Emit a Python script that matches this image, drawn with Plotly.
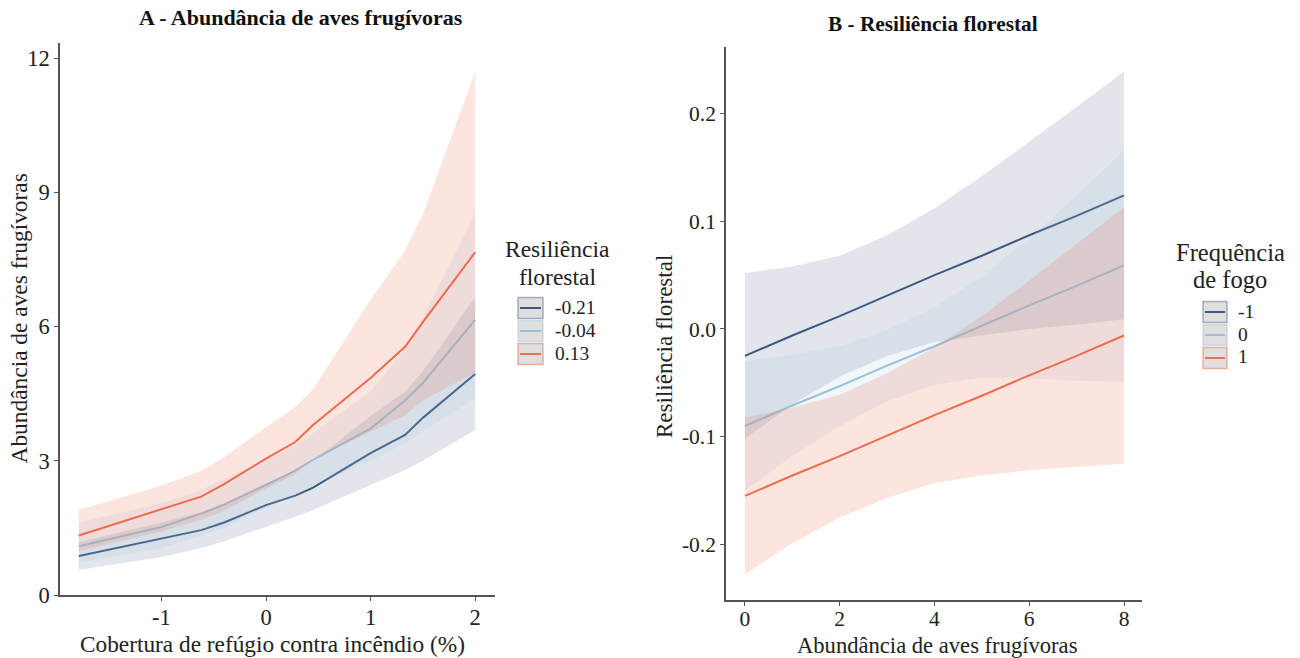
import plotly.graph_objects as go

# ---------- Panel A data ----------
xa = [-1.79, -1.0, -0.62, -0.4, 0.0, 0.28, 0.45, 1.0, 1.33, 1.5, 2.0]
a_groups = ["-0.21", "-0.04", "0.13"]
a_fit = {
    "-0.21": [0.87, 1.25, 1.45, 1.62, 2.01, 2.22, 2.40, 3.17, 3.58, 3.96, 4.94],
    "-0.04": [1.09, 1.52, 1.82, 2.02, 2.46, 2.78, 3.02, 3.72, 4.35, 4.74, 6.15],
    "0.13":  [1.33, 1.92, 2.20, 2.48, 3.05, 3.42, 3.80, 4.85, 5.55, 6.10, 7.66],
}
a_low = {
    "-0.21": [0.56, 0.85, 1.05, 1.20, 1.52, 1.75, 1.90, 2.46, 2.79, 3.00, 3.69],
    "-0.04": [0.72, 1.05, 1.32, 1.50, 1.95, 2.20, 2.45, 3.00, 3.40, 3.65, 4.40],
    "0.13":  [0.98, 1.42, 1.68, 1.88, 2.38, 2.70, 3.05, 3.65, 4.02, 4.35, 4.97],
}
a_high = {
    "-0.21": [1.18, 1.62, 1.85, 2.05, 2.50, 2.75, 3.00, 4.00, 4.55, 5.00, 6.66],
    "-0.04": [1.62, 2.05, 2.35, 2.60, 3.00, 3.35, 3.62, 4.55, 5.50, 6.20, 8.53],
    "0.13":  [1.90, 2.45, 2.78, 3.08, 3.75, 4.20, 4.60, 6.60, 7.70, 8.50, 11.70],
}

# ---------- Panel B data ----------
xb = [0, 1, 2, 3, 4, 5, 6, 7, 8]
b_groups = ["-1", "0", "1"]
b_fit = {
    "-1": [-0.025, -0.006, 0.012, 0.031, 0.050, 0.068, 0.087, 0.105, 0.124],
    "0":  [-0.090, -0.071, -0.053, -0.034, -0.016, 0.003, 0.022, 0.040, 0.059],
    "1":  [-0.155, -0.136, -0.118, -0.099, -0.080, -0.062, -0.043, -0.025, -0.006],
}
b_low = {
    "-1": [-0.102, -0.070, -0.044, -0.025, -0.012, -0.006, 0.000, 0.004, 0.009],
    "0":  [-0.150, -0.118, -0.090, -0.067, -0.052, -0.045, -0.046, -0.048, -0.049],
    "1":  [-0.228, -0.199, -0.175, -0.157, -0.143, -0.136, -0.131, -0.128, -0.125],
}
b_high = {
    "-1": [0.052, 0.058, 0.068, 0.087, 0.112, 0.142, 0.174, 0.206, 0.239],
    "0":  [-0.030, -0.024, -0.016, -0.001, 0.020, 0.049, 0.084, 0.124, 0.166],
    "1":  [-0.082, -0.073, -0.061, -0.041, -0.017, 0.012, 0.045, 0.079, 0.113],
}

line_colors = ["#3D5A80", "#98C1D9", "#EE6C4D"]
fill_colors = ["rgba(61,90,128,0.15)", "rgba(152,193,217,0.15)", "rgba(238,108,77,0.18)"]
key_borders = ["rgba(61,90,128,0.45)", "rgba(152,193,217,0.45)", "rgba(238,108,77,0.5)"]

FONT = "Liberation Serif"
# layout is designed in a 1300x658 frame; the figure is drawn a bit taller
# because the captured viewport is taller than 658 and gets squeezed to 658.
W, H = 1300, 658
HF = 671
fig = go.Figure()


def px(x):
    return x / W


def py(y):
    return 1 - y / H


def add_panel(xs, groups, fit, low, high, xax, yax):
    for i, g in enumerate(groups):
        fig.add_trace(go.Scatter(
            x=xs + xs[::-1], y=high[g] + low[g][::-1], fill="toself",
            fillcolor=fill_colors[i], line=dict(width=0), mode="lines",
            showlegend=False, hoverinfo="skip", xaxis=xax, yaxis=yax))
        fig.add_trace(go.Scatter(
            x=xs, y=fit[g], mode="lines", name=g,
            line=dict(color=line_colors[i], width=2),
            showlegend=False, xaxis=xax, yaxis=yax))


add_panel(xa, a_groups, a_fit, a_low, a_high, "x", "y")
add_panel(xb, b_groups, b_fit, b_low, b_high, "x2", "y2")

# ---------- legends drawn like ggplot keys ----------
shapes, annotations = [], []


def text(t, x, y, size, xanchor="center", angle=0, color="#222222"):
    annotations.append(dict(text=t, x=px(x), y=py(y), xref="paper", yref="paper",
                            showarrow=False, xanchor=xanchor, yanchor="middle",
                            textangle=angle,
                            font=dict(family=FONT, size=size, color=color)))


def add_legend(title_lines, title_x, title_ys, title_size, labels, box_x0, box_x1,
               rows, label_x, label_size):
    for t, ty in zip(title_lines, title_ys):
        text(t, title_x, ty, title_size)
    for i, (lab, ry) in enumerate(zip(labels, rows)):
        shapes.append(dict(type="rect", xref="paper", yref="paper",
                           x0=px(box_x0), x1=px(box_x1), y0=py(ry + 10.5), y1=py(ry - 10.5),
                           fillcolor="#DFDFDF", line=dict(color=key_borders[i], width=1.5)))
        shapes.append(dict(type="line", xref="paper", yref="paper",
                           x0=px(box_x0 + 2), x1=px(box_x1 - 2), y0=py(ry), y1=py(ry),
                           line=dict(color=line_colors[i], width=2)))
        text(lab, label_x, ry - 1, label_size, xanchor="left")


add_legend(["Resiliência", "florestal"], 557, [249, 277], 23.5, a_groups,
           518, 543, [308, 331, 354], 553, 19.5)
add_legend(["Frequência", "de fogo"], 1230, [252, 280], 24.5, b_groups,
           1203, 1227, [312, 335, 358], 1236, 19.5)

# titles
text("<b>A - Abundância de aves frugívoras</b>", 301, 18, 22, color="#111111")
text("<b>B - Resiliência florestal</b>", 933, 24, 21.3, color="#111111")
# axis titles
text("Cobertura de refúgio contra incêndio (%)", 272.5, 643.5, 23.3)
text("Abundância de aves frugívoras", 18.5, 319, 23.4, angle=-90)
text("Abundância de aves frugívoras", 936.5, 645, 22.6)
text("Resiliência florestal", 664, 347, 23, angle=-90)

axis_common = dict(showgrid=False, zeroline=False, showline=True, linecolor="#555555",
                   linewidth=1.5, ticks="outside", ticklen=4, tickcolor="#555555")


def tf(size):
    return dict(family=FONT, size=size, color="#222222")


fig.update_layout(
    width=W, height=HF, plot_bgcolor="white", paper_bgcolor="white",
    margin=dict(l=0, r=0, t=0, b=0), showlegend=False,
    font=dict(family=FONT, color="#222222"),
    xaxis=dict(domain=[px(60), px(495)], range=[-1.97, 2.19], tickvals=[-1, 0, 1, 2],
               ticktext=["-1", "0", "1", "2"], tickfont=tf(22.5), ticklabelstandoff=-3,
               anchor="y", **axis_common),
    yaxis=dict(domain=[py(595), py(43)], range=[0, 12.34],
               tickvals=[0, 3, 6, 9, 12], tickfont=tf(22.5),
               anchor="x", **axis_common),
    xaxis2=dict(domain=[px(726), px(1142)], range=[-0.40, 8.38], tickvals=[0, 2, 4, 6, 8],
                tickfont=tf(21.5), ticklabelstandoff=-6, anchor="y2", **axis_common),
    yaxis2=dict(domain=[py(600), py(47)], range=[-0.2516, 0.2618],
                tickvals=[-0.2, -0.1, 0.0, 0.1, 0.2],
                ticktext=["-0.2", "-0.1", "0.0", "0.1", "0.2"], tickfont=tf(21.5),
                anchor="x2", **axis_common),
    shapes=shapes,
    annotations=annotations,
)

fig.write_html(
    "out.html",
    config={"displayModeBar": False},
    post_script=("document.body.style.margin='0px';document.body.style.overflow='hidden';"
                 "document.documentElement.style.overflow='hidden';"),
)
